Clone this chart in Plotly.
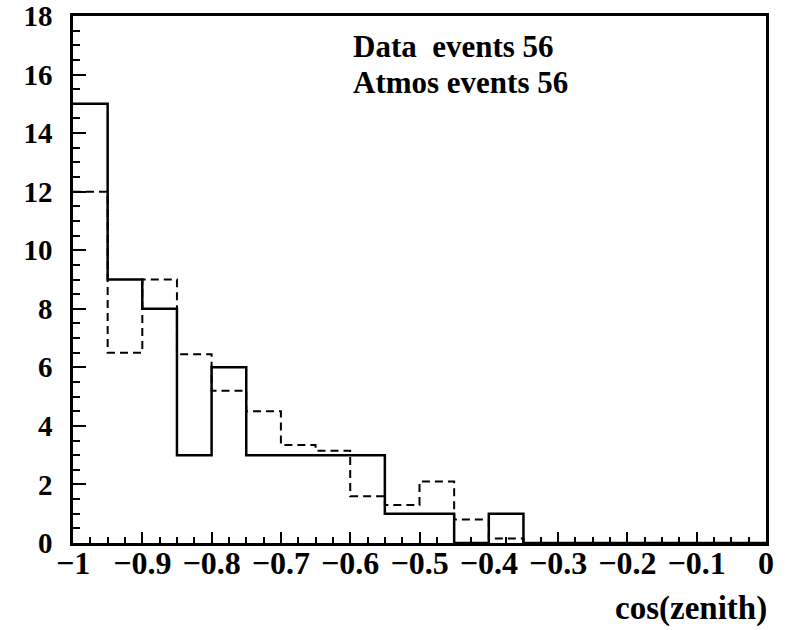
import plotly.graph_objects as go

bin_edges = [-1.0, -0.95, -0.9, -0.85, -0.8, -0.75, -0.7, -0.65, -0.6, -0.55, -0.5,
             -0.45, -0.4, -0.35, -0.3, -0.25, -0.2, -0.15, -0.1, -0.05, 0.0]
data_counts = [15, 9, 8, 3, 6, 3, 3, 3, 3, 1, 1, 0, 1, 0, 0, 0, 0, 0, 0, 0]
atmos_counts = [12.0, 6.5, 9.0, 6.45, 5.2, 4.5, 3.35, 3.15, 1.6, 1.3, 2.1, 0.8, 0.15,
                0, 0, 0, 0, 0, 0, 0]

x_tickvals = [-1, -0.9, -0.8, -0.7, -0.6, -0.5, -0.4, -0.3, -0.2, -0.1, 0]
x_ticktext = ["\u22121", "\u22120.9", "\u22120.8", "\u22120.7", "\u22120.6", "\u22120.5",
              "\u22120.4", "\u22120.3", "\u22120.2", "\u22120.1", "0"]
y_tickvals = [0, 2, 4, 6, 8, 10, 12, 14, 16, 18]

FONT = "'Liberation Serif', 'Times New Roman', Times, serif"

def step(values):
    return list(bin_edges), list(values) + [values[-1]]

fig = go.Figure()
xa, ya = step(atmos_counts)
fig.add_trace(go.Scatter(x=xa, y=ya, mode="lines", line_shape="hv",
                         line=dict(color="black", width=2, dash="8px,5px"),
                         showlegend=False, hoverinfo="skip"))
xd, yd = step(data_counts)
fig.add_trace(go.Scatter(x=xd, y=yd, mode="lines", line_shape="hv",
                         line=dict(color="black", width=2.5),
                         showlegend=False, hoverinfo="skip"))

fig.update_layout(
    width=789, height=630,
    margin=dict(l=73, r=23, t=16, b=87),
    plot_bgcolor="white", paper_bgcolor="white",
    font=dict(family=FONT, size=30, color="black"),
    xaxis=dict(range=[-1, 0], tickvals=x_tickvals, ticktext=x_ticktext,
               ticks="inside", ticklen=11, tickwidth=2, tickcolor="black",
               minor=dict(dtick=0.025, tick0=-1, ticks="inside", ticklen=6, tickwidth=2, tickcolor="black"),
               showline=True, linewidth=2.5, linecolor="black", mirror=True,
               showgrid=False, zeroline=False, automargin=False,
               tickfont=dict(family=FONT, size=32, color="black", weight="bold"),
               ticklabelstandoff=-10, ticklabeloverflow="allow"),
    yaxis=dict(range=[0, 18], tickvals=y_tickvals,
               ticks="inside", ticklen=13, tickwidth=2, tickcolor="black",
               minor=dict(dtick=0.5, tick0=0, ticks="inside", ticklen=7, tickwidth=2, tickcolor="black"),
               showline=True, linewidth=2.5, linecolor="black", mirror=True,
               showgrid=False, zeroline=False, automargin=False,
               tickfont=dict(family=FONT, size=29, color="black", weight="bold"),
               ticklabelstandoff=12, ticklabeloverflow="allow"),
)

annot_font = dict(family=FONT, size=31, color="black", weight="bold")
fig.add_annotation(xref="paper", yref="paper", x=0.401, y=0.942, xanchor="left", yanchor="middle",
                   text="Data\u00a0\u00a0events 56", showarrow=False, font=annot_font)
fig.add_annotation(xref="paper", yref="paper", x=0.401, y=0.874, xanchor="left", yanchor="middle",
                   text="Atmos events 56", showarrow=False, font=annot_font)
fig.add_annotation(xref="paper", yref="paper", x=1.004, y=-0.125, xanchor="right", yanchor="middle",
                   text="cos(zenith)", showarrow=False,
                   font=dict(family=FONT, size=33, color="black", weight="bold"))

fig.write_html("out.html", config={"displayModeBar": False},
               post_script="document.body.style.margin='0px';")
